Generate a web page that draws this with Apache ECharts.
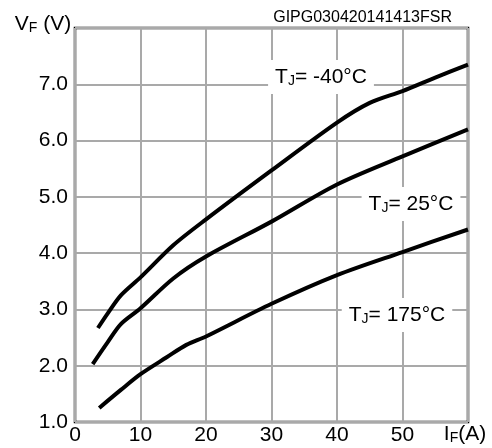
<!DOCTYPE html>
<html>
<head>
<meta charset="utf-8">
<script src="https://cdn.jsdelivr.net/npm/echarts@6/dist/echarts.min.js"></script>
<style>
html, body { margin: 0; padding: 0; background: #fff; }
#chart { width: 492px; height: 448px; }
</style>
</head>
<body>
<div id="chart"></div>
<script>
// forward voltage vs forward current
var curveM40 = [[3.5, 2.67], [5, 2.93], [7, 3.25], [10, 3.57], [15, 4.14], [20, 4.6], [30, 5.47], [40, 6.32], [45, 6.67], [50, 6.88], [55, 7.12], [60, 7.35]];
var curve25 = [[2.7, 2.03], [5, 2.42], [7, 2.74], [10, 3.02], [15, 3.55], [20, 3.94], [30, 4.56], [40, 5.22], [50, 5.72], [60, 6.2]];
var curve175 = [[3.7, 1.25], [7, 1.57], [10, 1.85], [14, 2.15], [17, 2.37], [20, 2.52], [30, 3.1], [40, 3.61], [50, 4.02], [60, 4.42]];
var curveNames = ['{b|T}{s|J}{b|= -40°C}', '{b|T}{s|J}{b|= 25°C}', '{b|T}{s|J}{b|= 175°C}'];
var yTitle = '{b|V}{s|F}{b| (V)}';
var xTitle = '{b|I}{s|F}{b|(A)}';
var chartCode = 'GIPG030420141413FSR';

var font = 'Liberation Sans, Arial, sans-serif';
var sub = { fontSize: 14, fontFamily: font, color: '#000', verticalAlign: 'bottom', lineHeight: 22 };
var big = { fontSize: 21, fontFamily: font, color: '#000', verticalAlign: 'bottom', lineHeight: 22 };

function line(data) {
    return {
        type: 'line',
        data: data,
        smooth: 0.3,
        symbol: 'none',
        lineStyle: { color: '#000', width: 4 },
        z: 3
    };
}

function tag(text, x, y, bg) {
    return {
        type: 'text',
        x: x,
        y: y,
        z: 10,
        style: {
            text: text,
            align: 'center',
            verticalAlign: 'middle',
            backgroundColor: bg ? '#fff' : null,
            padding: bg ? [6, 7, 6, 7] : 0,
            fill: '#000',
            rich: { s: sub, b: big }
        }
    };
}

var myChart = echarts.init(document.getElementById('chart'));
var option = {
    animation: false,
    grid: {
        left: 75, right: 24, top: 28, bottom: 26,
        show: true, borderColor: '#000', borderWidth: 2.5
    },
    xAxis: {
        type: 'value', min: 0, max: 60, interval: 10,
        axisLine: { show: false },
        axisTick: { show: false },
        splitLine: { lineStyle: { color: '#a9a9a9', width: 2 } },
        axisLabel: {
            margin: 3,
            fontSize: 21, fontFamily: font, color: '#000',
            formatter: function (v) {
                return v === 60 ? '' : String(v);
            }
        }
    },
    yAxis: {
        type: 'value', min: 1, max: 8, interval: 1,
        axisLine: { show: false },
        axisTick: { show: false },
        splitLine: { lineStyle: { color: '#a9a9a9', width: 2 } },
        axisLabel: {
            margin: 7,
            fontSize: 21, fontFamily: font, color: '#000',
            formatter: function (v) {
                return v === 8 ? '' : v.toFixed(1);
            }
        }
    },
    series: [line(curveM40), line(curve25), line(curve175)],
    graphic: [
        tag(curveNames[0], 321, 77, true),
        tag(curveNames[1], 411, 204, true),
        tag(curveNames[2], 397, 315, true),
        tag(yTitle, 43, 24, false),
        tag(xTitle, 465, 434, false),
        {
            type: 'text', right: 40, top: 10, z: 10,
            style: { text: chartCode, font: '16px ' + font, fill: '#000' }
        }
    ]
};
myChart.setOption(option);
</script>
</body>
</html>
